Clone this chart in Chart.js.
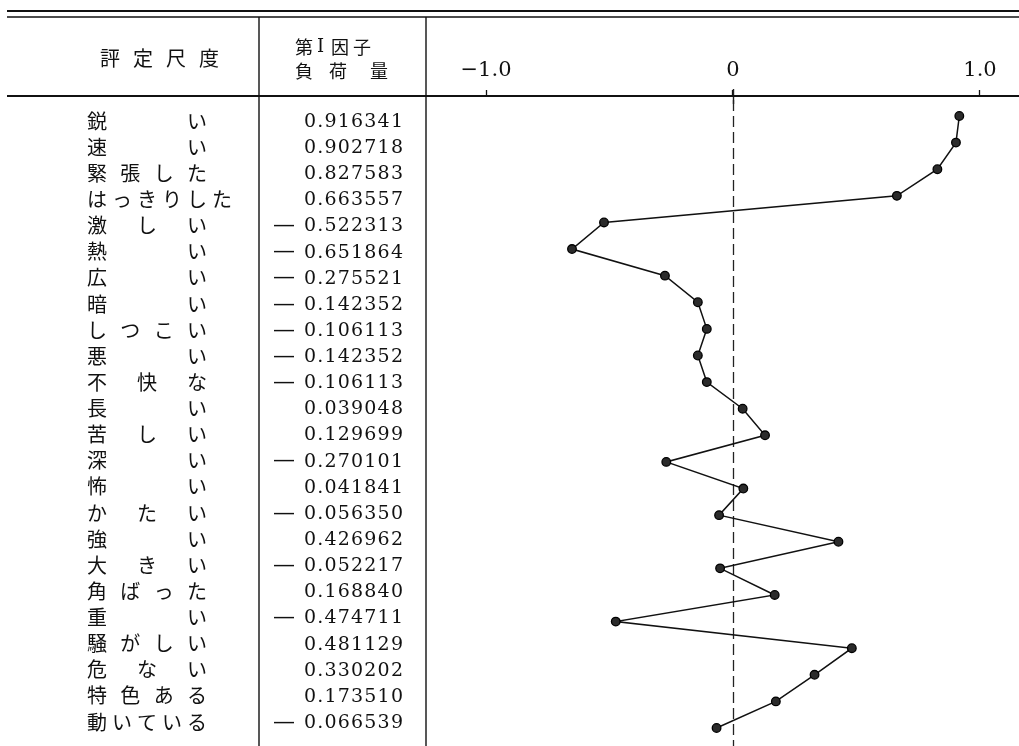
<!DOCTYPE html>
<html><head><meta charset="utf-8">
<script src="https://cdn.jsdelivr.net/npm/chart.js@4.4.1/dist/chart.umd.min.js"></script>
<style>html,body{margin:0;padding:0;background:#fff}#wrap{width:1019px;height:746px;position:relative}</style>
</head><body><div id="wrap"><canvas id="c"></canvas></div>
<script>
const scaleLabels = ['鋭い','速い','緊張した','はっきりした','激しい','熱い','広い','暗い','しつこい','悪い','不快な','長い','苦しい','深い','怖い','かたい','強い','大きい','角ばった','重い','騒がしい','危ない','特色ある','動いている'];
const loadings = [0.916341, 0.902718, 0.827583, 0.663557, -0.522313, -0.651864, -0.275521, -0.142352, -0.106113, -0.142352, -0.106113, 0.039048, 0.129699, -0.270101, 0.041841, -0.056350, 0.426962, -0.052217, 0.168840, -0.474711, 0.481129, 0.330202, 0.173510, -0.066539];
const tickValues = [-1, 0, 1];
const tickLabels = ['−1.0', '0', '1.0'];
const headerScale = '評定尺度';
const headerFactor1 = ['第', 'I', '因', '子'];
const headerFactor2 = ['負', '荷', '量'];

const JP = '"Noto Sans CJK JP", "Noto Sans CJK SC", sans-serif';
const SERIF = '"DejaVu Serif", "Liberation Serif", serif';

function fmt(v) { return Math.abs(v).toFixed(6); }

const tablePlugin = {
  id: 'tableDecor',
  beforeDraw(chart) {
    const ctx = chart.ctx;
    ctx.save();
    ctx.fillStyle = '#fff';
    ctx.fillRect(0, 0, chart.width, chart.height);
    ctx.restore();
  },
  beforeDatasetsDraw(chart) {
    const ctx = chart.ctx;
    const xs = chart.scales.x;
    const x0 = Math.round(xs.getPixelForValue(0)) + 0.5;
    ctx.save();
    ctx.strokeStyle = '#222';
    ctx.lineWidth = 1.3;
    ctx.setLineDash([11, 5]);
    ctx.beginPath(); ctx.moveTo(x0, 100); ctx.lineTo(x0, 746); ctx.stroke();
    ctx.setLineDash([]);
    ctx.lineWidth = 1.4;
    ctx.beginPath(); ctx.moveTo(x0, 89); ctx.lineTo(x0, 104); ctx.stroke();
    ctx.restore();
  },
  afterDraw(chart) {
    const ctx = chart.ctx;
    ctx.save();
    ctx.strokeStyle = '#111';
    function line(x1, y1, x2, y2, w) {
      ctx.lineWidth = w; ctx.beginPath(); ctx.moveTo(x1, y1); ctx.lineTo(x2, y2); ctx.stroke();
    }
    line(7, 11, 1019, 11, 2.2);
    line(7, 17, 1019, 17, 1.3);
    line(7, 96, 1019, 96, 1.8);
    line(259, 17, 259, 746, 1.4);
    line(426, 17, 426, 746, 1.4);

    ctx.fillStyle = '#111';
    ctx.textBaseline = 'middle';
    ctx.textAlign = 'left';
    // header: 評定尺度
    ctx.font = '20px ' + JP;
    const hs = Array.from(headerScale);
    hs.forEach((c, i) => ctx.fillText(c, 100 + i * 33, 58));
    // header: 第I因子 / 負荷量
    const f1x = [295, 317, 331, 353];
    headerFactor1.forEach((c, i) => {
      ctx.font = (c === 'I' ? '18px ' + SERIF : '18px ' + JP);
      ctx.fillText(c, f1x[i], 47);
    });
    ctx.font = '18px ' + JP;
    const f2x = [295, 329, 370];
    headerFactor2.forEach((c, i) => ctx.fillText(c, f2x[i], 71));

    // rows
    for (let r = 0; r < scaleLabels.length; r++) {
      const y = 121 + r * 26.13;
      const chars = Array.from(scaleLabels[r]);
      const n = chars.length;
      const pitch = Math.max(25, 100 / (n - 1));
      ctx.font = '20px ' + JP;
      ctx.textAlign = 'left';
      chars.forEach((c, i) => ctx.fillText(c, 87 + i * pitch, y));
      // number
      const v = loadings[r];
      const s = fmt(v);
      ctx.font = '19px ' + SERIF;
      let x = 403;
      const cs = Array.from(s);
      for (let k = cs.length - 1; k >= 0; k--) {
        const w = ctx.measureText(cs[k]).width;
        x -= w;
        ctx.fillText(cs[k], x, y + 1);
        x -= 1.2;
      }
      if (v < 0) {
        ctx.textAlign = 'center';
        ctx.font = '22px ' + SERIF;
        ctx.fillText('—', 284, y + 1);
        ctx.textAlign = 'left';
      }
    }
    ctx.restore();
  }
};

new Chart(document.getElementById('c'), {
  type: 'scatter',
  data: {
    datasets: [{
      data: loadings.map((v, i) => ({ x: v, y: i })),
      showLine: true,
      borderColor: '#111',
      borderWidth: 1.5,
      pointRadius: 4.3,
      pointBackgroundColor: '#2b2b2b',
      pointBorderColor: '#000',
      pointBorderWidth: 1.3,
      tension: 0,
      clip: false
    }]
  },
  options: {
    responsive: true,
    maintainAspectRatio: false,
    animation: false,
    events: [],
    layout: { autoPadding: false, padding: { left: 426, right: 0, top: 0, bottom: 0 } },
    plugins: { legend: { display: false }, tooltip: { enabled: false } },
    scales: {
      x: {
        type: 'linear', position: 'top', min: -1.243, max: 1.158,
        afterBuildTicks: s => { s.ticks = tickValues.map(v => ({ value: v })); },
        afterFit: s => { s.height = 96; s.paddingLeft = 0; s.paddingRight = 0; },
        grid: { drawOnChartArea: false, drawTicks: true, tickLength: 6, tickWidth: 1.3, tickColor: '#111', color: '#111' },
        border: { display: false },
        ticks: {
          font: { family: 'DejaVu Serif', size: 21 }, color: '#111', padding: 7,
          maxRotation: 0, autoSkip: false,
          callback: (v, i) => tickLabels[i]
        }
      },
      y: { type: 'linear', display: false, reverse: true, min: -0.752, max: 23.676 }
    }
  },
  plugins: [tablePlugin]
});
</script>
</body></html>
